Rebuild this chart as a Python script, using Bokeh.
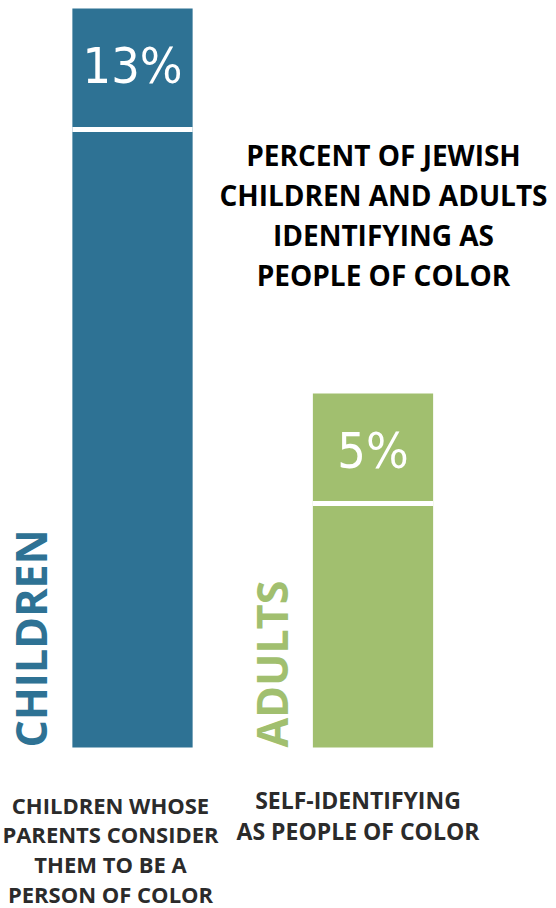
import math
from bokeh.plotting import figure
from bokeh.models import Range1d, ColumnDataSource, Label
from bokeh.core.properties import value
from bokeh.embed import file_html
from bokeh.resources import INLINE

# ---- data ----
categories = ["CHILDREN", "ADULTS"]
percents = [13, 5]
value_labels = ["13%", "5%"]
descriptions = ["CHILDREN WHOSE\nPARENTS CONSIDER\nTHEM TO BE A\nPERSON OF COLOR",
                "SELF-IDENTIFYING\nAS PEOPLE OF COLOR"]
title_lines = "PERCENT OF JEWISH\nCHILDREN AND ADULTS\nIDENTIFYING AS\nPEOPLE OF COLOR"
colors = ["#2E7294", "#A1BF6F"]

# ---- layout constants ----
W, H = 548, 908
PX_PER_X = 240.5
X0_PX = 132
PX_PER_UNIT = 48.125
TOP_VALUE = 13
TOP_PAD = 8
BASE = TOP_VALUE - 739 / PX_PER_UNIT
box_px = [121, 110]
desc_offsets = [-22, -15]
desc_y_offsets = [42, 36]

xs = list(range(len(categories)))
src = ColumnDataSource(dict(
    x=xs, top=percents, color=colors, label=value_labels, cat=categories,
    desc=descriptions, sep=[v - b / PX_PER_UNIT for v, b in zip(percents, box_px)],
    base=[BASE] * len(xs), desc_x=[x + o / PX_PER_X for x, o in zip(xs, desc_offsets)],
    desc_dy=desc_y_offsets, desc_size=["22px", "23px"],
))

y_end = TOP_VALUE + TOP_PAD / PX_PER_UNIT
p = figure(width=W, height=H, output_backend="svg", toolbar_location=None,
           min_border=0, x_range=Range1d(-X0_PX / PX_PER_X, (W - X0_PX) / PX_PER_X),
           y_range=Range1d(y_end - H / PX_PER_UNIT, y_end))
p.axis.visible = False
p.grid.visible = False
p.outline_line_color = None
p.background_fill_color = "white"

p.vbar(x="x", top="top", bottom=BASE, width=0.5, fill_color="color", line_color=None, source=src)
p.rect(x="x", y="sep", width=0.5, height=5, height_units="screen",
       fill_color="white", line_color=None, source=src)

p.text(x="x", y="top", text="label", source=src, text_color="white",
       text_font=value("'DejaVu Sans Condensed', 'Liberation Sans Narrow', 'Roboto Condensed', Roboto, sans-serif"),
       text_font_size="50px",
       text_align="center", text_baseline="middle", y_offset=57)

p.text(x="x", y="base", text="cat", source=src, text_color="color",
       text_font=value("Open Sans"), text_font_style="bold", text_font_size="43px",
       angle=math.pi / 2, text_align="left", text_baseline="middle", x_offset=-102)

p.text(x="desc_x", y="base", text="desc", source=src, text_color="#2b2b2b",
       text_font=value("Open Sans"), text_font_style="bold", text_font_size="desc_size",
       text_align="center", text_baseline="top", y_offset="desc_dy", text_line_height=0.99)

title = Label(x=383, y=H - 135, x_units="screen", y_units="screen", text=title_lines,
              text_font="Open Sans", text_font_style="bold", text_font_size="28px",
              text_color="black", text_align="center", text_baseline="top",
              text_line_height=1.06)
p.add_layout(title)

open("out.html", "w").write(file_html(p, INLINE))
